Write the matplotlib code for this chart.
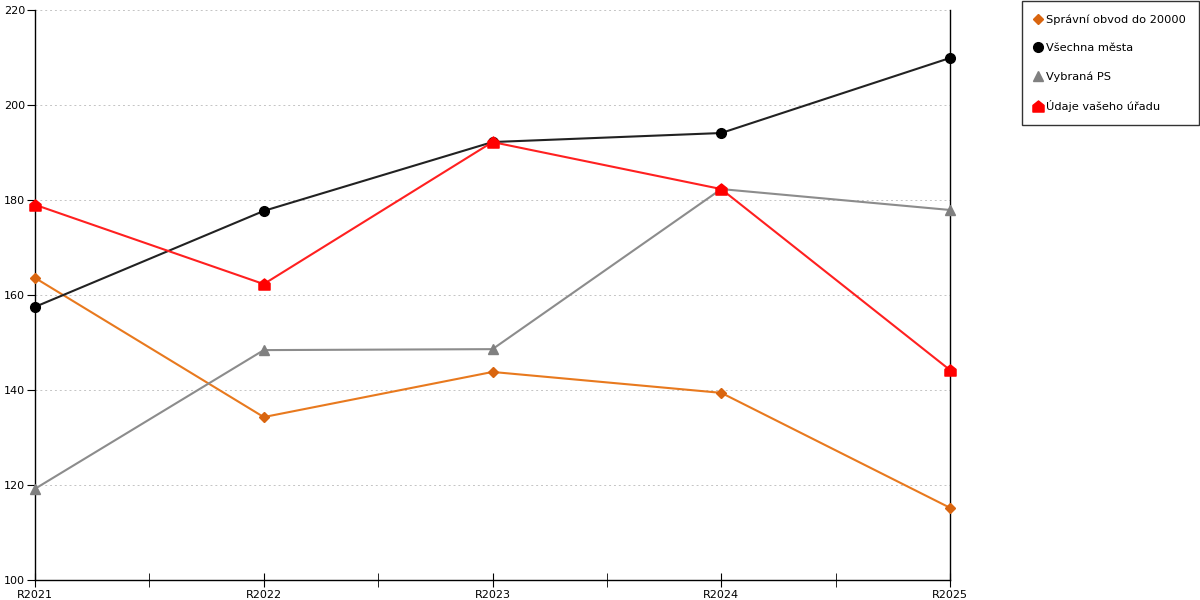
import matplotlib.pyplot as plt
from matplotlib.path import Path
from matplotlib.ticker import MultipleLocator

years = ['R2021', 'R2022', 'R2023', 'R2024', 'R2025']
spravni_obvod = [163.6, 134.3, 143.8, 139.4, 115.2]
vsechna_mesta = [157.5, 177.7, 192.2, 194.1, 209.9]
vybrana_ps = [119.2, 148.4, 148.6, 182.3, 177.9]
vas_urad = [179.0, 162.3, 192.2, 182.3, 144.2]

plt.rcParams['font.family'] = ['DejaVu Sans']

# house-shaped marker for the office series
house = Path([(-1, -1), (1, -1), (1, 0.2), (0, 1), (-1, 0.2), (-1, -1)],
             [Path.MOVETO, Path.LINETO, Path.LINETO, Path.LINETO, Path.LINETO, Path.CLOSEPOLY])

fig = plt.figure(figsize=(12, 6), dpi=100)
ax = fig.add_axes([35/1200, 20/600, 915/1200, 570/600])

x = range(len(years))
ax.plot(x, spravni_obvod, color='#E8791E', lw=1.5, marker='D', ms=5,
        mfc='#D9650F', mec='#D9650F', label='Správní obvod do 20000', zorder=3, clip_on=False)
ax.plot(x, vsechna_mesta, color='#222222', lw=1.5, marker='o', ms=7,
        mfc='#000000', mec='#000000', label='Všechna města', zorder=3, clip_on=False)
ax.plot(x, vybrana_ps, color='#8C8C8C', lw=1.5, marker='^', ms=7,
        mfc='#808080', mec='#808080', label='Vybraná PS', zorder=3, clip_on=False)
ax.plot(x, vas_urad, color='#FF2020', lw=1.5, marker=house, ms=8,
        mfc='#FF0000', mec='#FF0000', label='Údaje vašeho úřadu', zorder=4, clip_on=False)

ax.set_xlim(0, len(years) - 1)
ax.set_ylim(100, 220)
ax.set_xticks(list(x))
ax.set_xticklabels(years)
ax.xaxis.set_minor_locator(MultipleLocator(0.5))
ax.yaxis.set_major_locator(MultipleLocator(20))

ax.grid(axis='y', color='#C4C4C4', linestyle=(0, (2, 3)), lw=0.7)
ax.set_axisbelow(True)
ax.spines['top'].set_visible(False)
for s in ['left', 'right', 'bottom']:
    ax.spines[s].set_color('black')
    ax.spines[s].set_linewidth(1)

ax.tick_params(axis='x', which='both', direction='inout', length=10, labelsize=8, pad=2)
ax.tick_params(axis='y', which='major', direction='out', length=6, labelsize=8, pad=1)
ax.tick_params(axis='y', right=False)

leg = fig.legend(loc='upper right', bbox_to_anchor=(1199/1200, 1 - 1/600), fontsize=8.2,
                 frameon=True, fancybox=False, edgecolor='black', handlelength=0.6,
                 handletextpad=0.4, labelspacing=1.6, borderpad=1.15, borderaxespad=0)
leg.get_frame().set_linewidth(1)
for line in leg.get_lines():
    line.set_linestyle('')

fig.savefig('out.png', dpi=100)
